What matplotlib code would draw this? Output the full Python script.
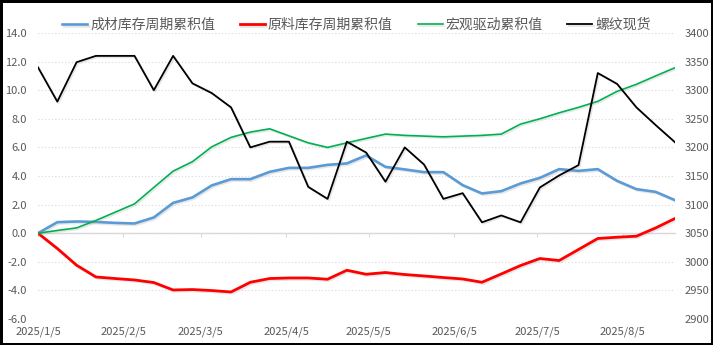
import matplotlib
matplotlib.use("Agg")
import matplotlib.pyplot as plt
import matplotlib.dates as mdates
import matplotlib.patheffects as pe
import numpy as np
import pandas as pd

plt.rcParams['font.family'] = ['Noto Sans CJK SC', 'DejaVu Sans']

dates = pd.date_range("2025-01-05", periods=34, freq="7D")

finished_inv = [0.0, 0.77, 0.82, 0.79, 0.72, 0.68, 1.1, 2.12, 2.5, 3.34, 3.78, 3.78,
                4.29, 4.57, 4.57, 4.78, 4.88, 5.44, 4.64, 4.46, 4.27, 4.27, 3.36, 2.78,
                2.94, 3.48, 3.87, 4.48, 4.36, 4.48, 3.66, 3.08, 2.89, 2.31]
raw_inv = [0.0, -1.07, -2.24, -3.06, -3.17, -3.27, -3.45, -3.97, -3.94, -4.01, -4.11, -3.43,
           -3.17, -3.13, -3.13, -3.22, -2.59, -2.87, -2.75, -2.89, -2.99, -3.1, -3.2, -3.43,
           -2.85, -2.26, -1.77, -1.91, -1.14, -0.37, -0.28, -0.21, 0.37, 1.03]
macro = [0.0, 0.19, 0.37, 0.89, 1.47, 2.05, 3.2, 4.34, 5.0, 6.04, 6.7, 7.07,
         7.3, 6.81, 6.32, 6.0, 6.32, 6.63, 6.93, 6.84, 6.79, 6.74, 6.79, 6.84,
         6.93, 7.63, 8.0, 8.42, 8.8, 9.22, 9.92, 10.41, 11.0, 11.57]
rebar = [3340, 3280, 3349, 3360, 3360, 3360, 3300, 3360, 3312, 3295, 3270, 3200,
         3210, 3210, 3131, 3110, 3210, 3191, 3140, 3200, 3170, 3110, 3120, 3069,
         3081, 3069, 3130, 3151, 3169, 3330, 3311, 3270, 3239, 3209]

names = ["成材库存周期累积值", "原料库存周期累积值", "宏观驱动累积值", "螺纹现货"]
colors = ["#5B9BD5", "#FF0000", "#00B050", "#000000"]

left_ticks = np.arange(-6, 14.01, 2)
right_ticks = np.arange(2900, 3400.1, 50)
xtick_dates = pd.date_range("2025-01-01", "2025-08-05", freq="MS") + pd.Timedelta(days=4)

gray = "#595959"
fig = plt.figure(figsize=(7.13, 3.45), dpi=100)
fig.patch.set_facecolor("white")
fig.patch.set_edgecolor("black")
fig.patch.set_linewidth(2.5)

ax = fig.add_axes([38/713, 1-319/345, (675-38)/713, (319-33)/345])
ax2 = ax.twinx()

shadow = [pe.SimpleLineShadow(offset=(1.0, -1.0), shadow_color="#a0a0a0", alpha=0.25), pe.Normal()]

l1, = ax.plot(dates, finished_inv, color=colors[0], lw=1.9, path_effects=shadow, zorder=3)
l2, = ax.plot(dates, raw_inv, color=colors[1], lw=2.0, path_effects=shadow, zorder=3)
l3, = ax.plot(dates, macro, color=colors[2], lw=1.2, path_effects=shadow, zorder=3)
l4, = ax2.plot(dates, rebar, color=colors[3], lw=1.3, path_effects=shadow, zorder=3)

ax.set_ylim(-6, 14)
ax.set_yticks(left_ticks)
ax.set_yticklabels([f"{v:.1f}" for v in left_ticks])
ax2.set_ylim(2900, 3400)
ax2.set_yticks(right_ticks)
ax2.set_yticklabels([f"{int(v)}" for v in right_ticks])
ax.set_xlim(dates[0], dates[-1])

ax.grid(axis="y", color="#d9d9d9", linestyle=(0, (1, 2)), lw=0.8)
ax.set_axisbelow(True)

for a in (ax, ax2):
    for s in a.spines.values():
        s.set_visible(False)
ax.spines["bottom"].set_visible(True)
ax.spines["bottom"].set_position(("data", 0))
ax.spines["bottom"].set_color("#d9d9d9")
ax.spines["bottom"].set_linewidth(1.0)

ax.set_xticks(xtick_dates)
ax.xaxis.set_major_formatter(mdates.DateFormatter("%Y/%-m/%-d"))
ax.tick_params(axis="x", direction="out", length=3, labelsize=8, pad=64,
               colors="#d9d9d9", labelcolor=gray)
ax.tick_params(axis="y", length=0, labelsize=8, labelcolor=gray, pad=8)
ax2.tick_params(axis="y", length=0, labelsize=8, labelcolor=gray, pad=7)

fig.legend([l1, l2, l3, l4], names, loc="center", bbox_to_anchor=(0.5, 1-25/345),
           ncol=4, frameon=False, fontsize=10, handlelength=1.8, handletextpad=0.2,
           columnspacing=1.8, labelcolor=gray)

fig.savefig("out.png", dpi=100, facecolor=fig.get_facecolor(), edgecolor=fig.get_edgecolor())
